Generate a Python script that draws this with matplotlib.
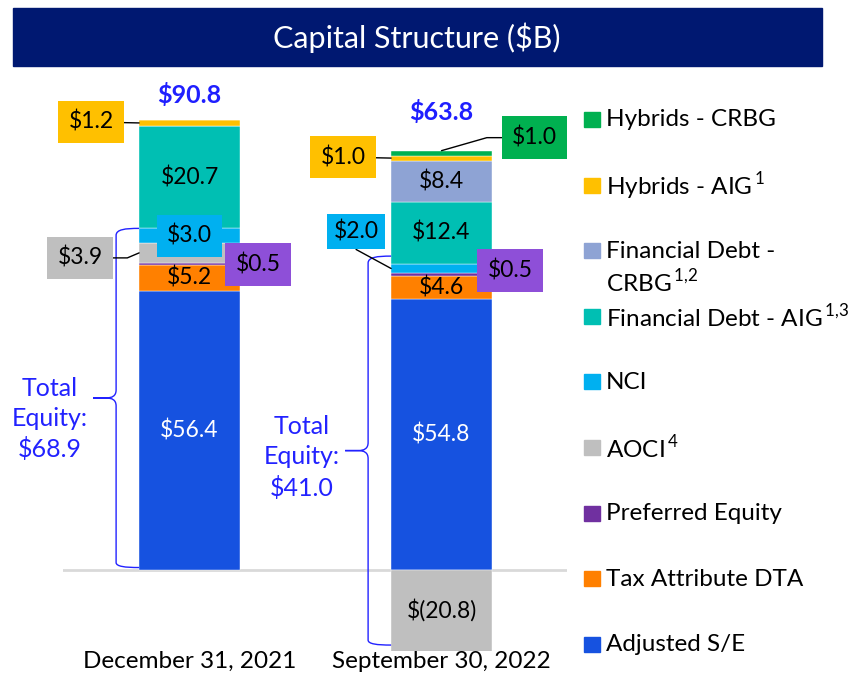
import numpy as np
import matplotlib.pyplot as plt
from matplotlib.patches import Rectangle, PathPatch
from matplotlib.path import Path

plt.rcParams['font.family'] = ['Lato', 'DejaVu Sans']
plt.rcParams['mathtext.fontset'] = 'custom'
plt.rcParams['mathtext.rm'] = 'Lato'

# data ($B)
dates = ['December 31, 2021', 'September 30, 2022']
adjusted_se = [56.4, 54.8]
tax_dta = [5.2, 4.6]
preferred = [0.5, 0.5]
aoci = [3.9, -20.8]
nci = [3.0, 2.0]
fin_debt_aig = [20.7, 12.4]
fin_debt_crbg = [0.0, 8.4]
hybrids_aig = [1.2, 1.0]
hybrids_crbg = [0.0, 1.0]
totals = [90.8, 63.8]
total_equity = [68.9, 41.0]

series = [adjusted_se, tax_dta, preferred, aoci, nci,
          fin_debt_aig, fin_debt_crbg, hybrids_aig, hybrids_crbg]
colors = ['#1652e0', '#ff8000', '#7030a0', '#bfbfbf', '#00b0f0',
          '#00bfb3', '#8ea3d4', '#ffc000', '#00b050']
legend_labels = ['Hybrids - CRBG', r'Hybrids - AIG$^{\,1}$', 'Financial Debt -',
                 r'Financial Debt - AIG$^{\,1{,}3}$', 'NCI', r'AOCI$^{\,4}$',
                 'Preferred Equity', 'Tax Attribute DTA', 'Adjusted S/E']
legend_colors = colors[::-1]

W, H = 851, 674
fig = plt.figure(figsize=(W / 100, H / 100), dpi=100)

# title banner
fig.patches.append(Rectangle((13 / W, 1 - 66 / H), 809 / W, 58 / H,
                             transform=fig.transFigure, color='#001871', zorder=0))
fig.text(417 / W, 1 - 38 / H, 'Capital Structure ($B)', color='white',
         fontsize=22, ha='center', va='center')

ax = fig.add_axes([63 / W, (H - 651) / H, 504 / W, 585 / H])
x = np.arange(len(dates))
bw = 0.40
ymin, ymax = -16.36, 101.8
ax.set_xlim(-0.502, 1.498)
ax.set_ylim(ymin, ymax)

pos_base = np.zeros(len(dates))
neg_base = np.zeros(len(dates))
bottoms = []
for vals, c in zip(series, colors):
    vals = np.array(vals)
    b = np.where(vals >= 0, pos_base, neg_base)
    ax.bar(x, vals, bw, bottom=b, color=c, edgecolor='white', linewidth=0.3, zorder=2)
    bottoms.append(b)
    pos_base = pos_base + np.where(vals >= 0, vals, 0)
    neg_base = neg_base + np.where(vals < 0, vals, 0)

ax.axhline(0, color='#d9d9d9', lw=2, zorder=1)

ax.set_frame_on(False)
ax.set_yticks([])
ax.set_xticks(x)
ax.set_xticklabels(dates, fontsize=17.5)
ax.tick_params(axis='x', length=0, pad=0)

vfs = 16.5


def mid(i, j):
    v = series[i][j]
    b = bottoms[i][j]
    lo, hi = sorted([b, b + v])
    lo = max(lo, ymin)
    return (lo + hi) / 2


# plain labels inside segments
for j in range(2):
    ax.text(x[j], mid(0, j), f'${adjusted_se[j]:.1f}', color='white', fontsize=vfs,
            ha='center', va='center', zorder=3)
    ax.text(x[j], mid(1, j), f'${tax_dta[j]:.1f}', fontsize=vfs,
            ha='center', va='center', zorder=3)
    ax.text(x[j], mid(5, j), f'${fin_debt_aig[j]:.1f}', fontsize=vfs,
            ha='center', va='center', zorder=3)
ax.text(x[1], mid(6, 1), f'${fin_debt_crbg[1]:.1f}', fontsize=vfs,
        ha='center', va='center', zorder=3)
ax.text(x[1], mid(3, 1), f'$({-aoci[1]:.1f})', fontsize=vfs,
        ha='center', va='center', zorder=3)


# boxed callouts
def callout(xy, text, color, dx, dy, conn='arc3', line=True, pad=0.45):
    arrow = None
    if line:
        arrow = dict(arrowstyle='-', color='black', lw=1, shrinkA=0, shrinkB=0,
                     connectionstyle=conn)
    ax.annotate(text, xy=xy, xytext=(dx, dy), textcoords='offset pixels',
                ha='center', va='center', fontsize=vfs, zorder=4,
                bbox=dict(boxstyle=f'square,pad={pad}', fc=color, ec='none'),
                arrowprops=arrow)


callout((x[0], mid(4, 0)), f'${nci[0]:.1f}', colors[4], 0, 0, line=False)
callout((x[0] - bw / 2, mid(7, 0)), f'${hybrids_aig[0]:.1f}', colors[7], -48, 1)
callout((x[0] - bw / 2, mid(3, 0)), f'${aoci[0]:.1f}', colors[3], -59, -5,
        conn='angle,angleA=0,angleB=23,rad=0')
callout((x[0] + bw / 2, mid(2, 0)), f'${preferred[0]:.1f}', '#8e4fd8', 18, -1, line=False)

callout((x[1] - bw / 2, mid(7, 1)), f'${hybrids_aig[1]:.1f}', colors[7], -48, 1)
callout((x[1], pos_base[1]), f'${hybrids_crbg[1]:.1f}', colors[8], 93, 13,
        conn='angle,angleA=0,angleB=16,rad=0')
callout((x[1] - bw / 2, mid(4, 1)), f'${nci[1]:.1f}', colors[4], -35, 37, pad=0.3,
        conn='angle,angleA=-90,angleB=-28.5,rad=0')
callout((x[1] + bw / 2, mid(2, 1)), f'${preferred[1]:.1f}', '#8e4fd8', 18, 4, line=False)

# totals on top
for j, off in zip(range(2), [25, 39]):
    ax.annotate(f'${totals[j]:.1f}', xy=(x[j], pos_base[j]), xytext=(0, off),
                textcoords='offset pixels', ha='center', va='center', fontsize=18,
                fontweight='bold', color='#1f1fff')

# total equity braces
sx, sy = 1 / 252, 1 / 4.95
brace_col = '#2222ff'


def brace(xe, top, bot, lab, tx, ty):
    xl = xe - 23 * sx
    xt = xe - 46 * sx
    m = (top + bot) / 2
    verts = [(xe, top), (xe - 14 * sx, top), (xl, top - 1 * sy), (xl, top - 7 * sy),
             (xl, m + 8 * sy),
             (xl, m + 2 * sy), (xl - 4 * sx, m), (xl - 10 * sx, m),
             (xt, m),
             (xl - 10 * sx, m),
             (xl - 4 * sx, m), (xl, m - 2 * sy), (xl, m - 8 * sy),
             (xl, bot + 5 * sy),
             (xl, bot + 1 * sy), (xe - 14 * sx, bot), (xe, bot)]
    codes = [Path.MOVETO, Path.CURVE4, Path.CURVE4, Path.CURVE4,
             Path.LINETO,
             Path.CURVE4, Path.CURVE4, Path.CURVE4,
             Path.LINETO, Path.LINETO,
             Path.CURVE4, Path.CURVE4, Path.CURVE4,
             Path.LINETO,
             Path.CURVE4, Path.CURVE4, Path.CURVE4]
    ax.add_patch(PathPatch(Path(verts, codes), fc='none', ec=brace_col, lw=1,
                           clip_on=False, zorder=3))
    ax.annotate(lab, xy=(xt, m), xytext=(tx, ty), textcoords='offset pixels',
                ha='center', va='center', fontsize=18, color=brace_col,
                linespacing=1.38)


eq_top = [sum(s[j] for s in series[:5] if s[j] > 0) for j in range(2)]
eq_bot = [max(neg_base[j], ymin) for j in range(2)]
brace(x[0] - bw / 2, eq_top[0], eq_bot[0] + 0.5, f'Total\nEquity:\n${total_equity[0]:.1f}', -43, -21)
brace(x[1] - bw / 2, eq_top[1] + 1.5, eq_bot[1] + 1.2, f'Total\nEquity:\n${total_equity[1]:.1f}', -43, -7)

# legend
row0, step = 120, 65.6
for i, (lab, c) in enumerate(zip(legend_labels, legend_colors)):
    yc = row0 + i * step
    fig.patches.append(Rectangle((584 / W, 1 - (yc + 7) / H), 16 / W, 15 / H,
                                 transform=fig.transFigure, color=c))
    fig.text(606 / W, 1 - yc / H, lab, fontsize=17.5, va='center', ha='left')
    if i == 2:
        fig.text(606 / W, 1 - (yc + 31) / H, r'CRBG$^{\,1{,}2}$', fontsize=17.5,
                 va='center', ha='left')

fig.savefig('out.png', dpi=100)
